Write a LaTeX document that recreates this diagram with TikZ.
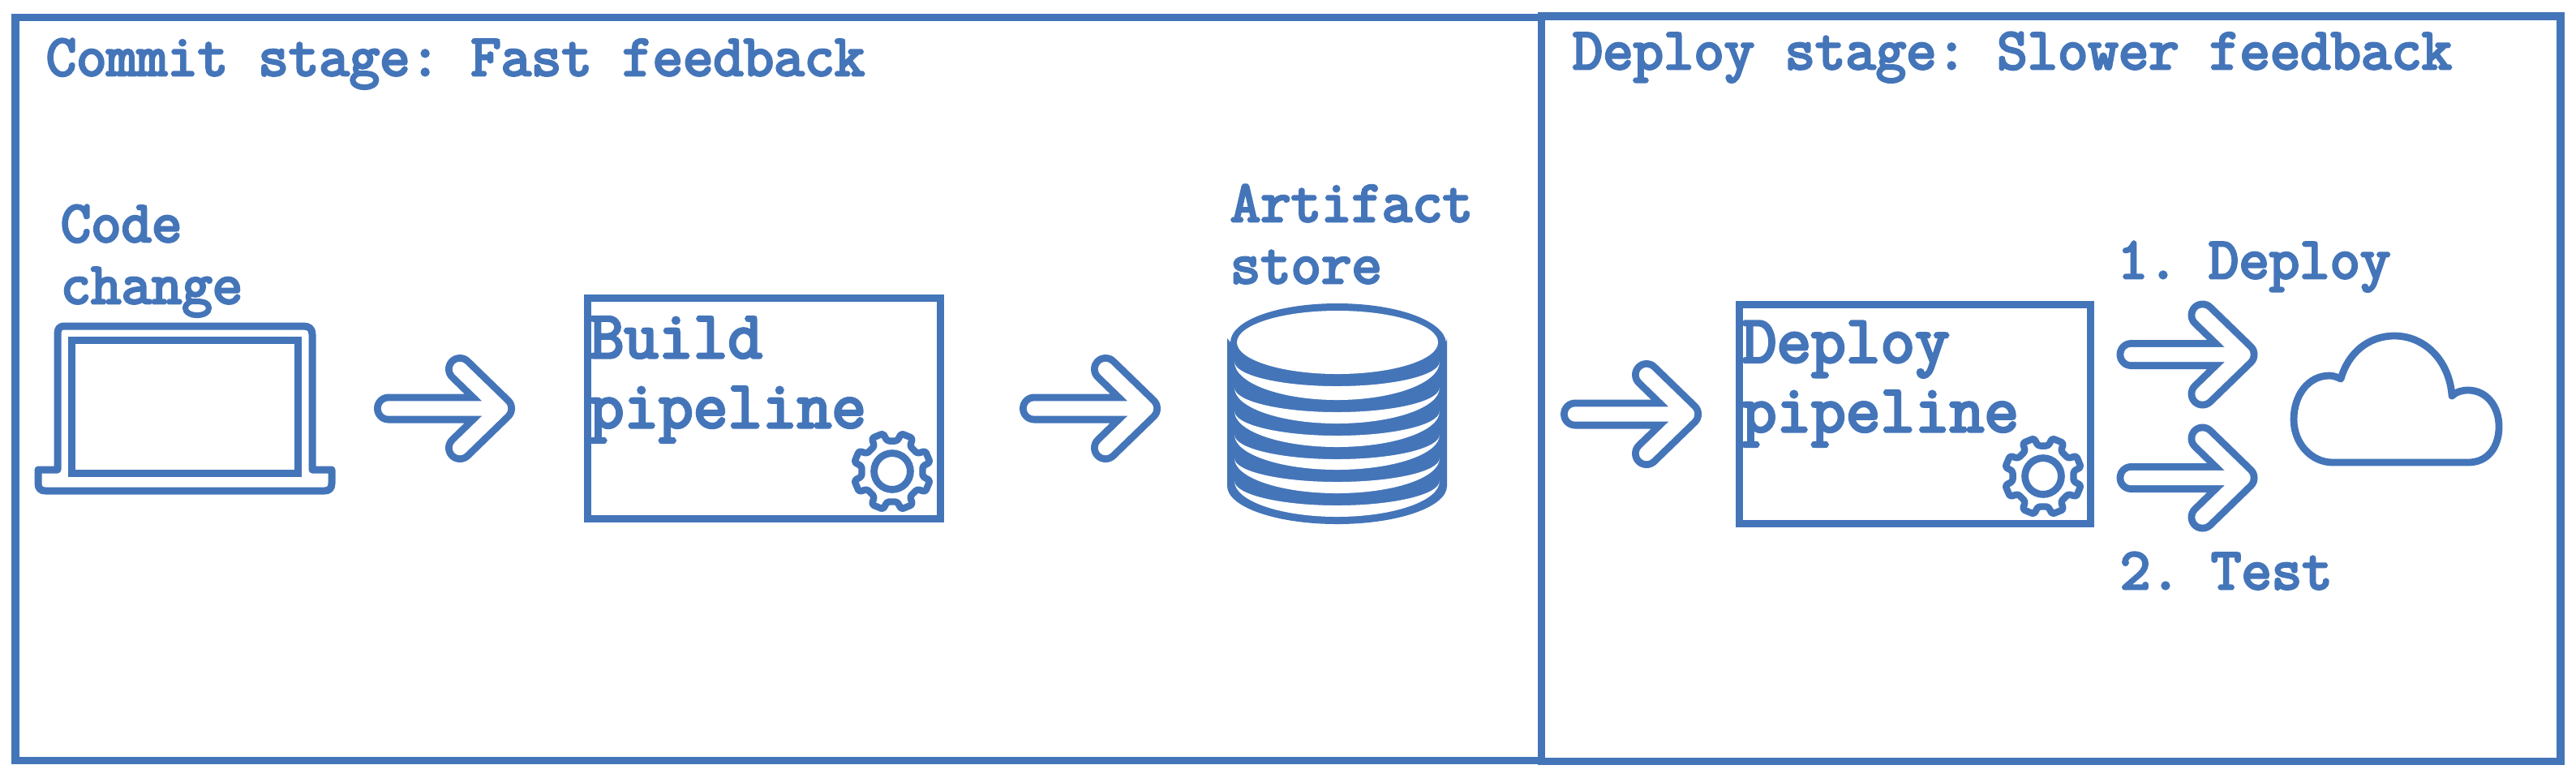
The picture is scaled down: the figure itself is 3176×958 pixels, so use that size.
\documentclass[tikz,border=0pt]{standalone}
\usepackage{fontspec}
\newfontfamily\labelfont{Latin Modern Mono}[FakeBold=4]
\frenchspacing
\definecolor{inkblue}{RGB}{68,117,185}
\tikzset{
  x=0.25pt,y=-0.25pt,
  frameline/.style={draw=inkblue,line width=2.35pt},
  boxline/.style={draw=inkblue,line width=2.25pt},
  small label/.style={inner sep=0pt,anchor=base west,text=inkblue,font=\labelfont\fontsize{18.15}{20}\selectfont},
  big label/.style={inner sep=0pt,anchor=base west,text=inkblue,font=\labelfont\fontsize{20.7}{22}\selectfont},
  pics/flowarrow/.style={code={
    \draw[inkblue,line width=9pt,line cap=round,line join=round] (18,0) -- (156,0) (106,-48.5) -- (156,0) -- (106,48.5);
    \draw[white,line width=4.6pt,line cap=round,line join=round] (18,0) -- (156,0) (106,-48.5) -- (156,0) -- (106,48.5);
  }},
  pics/gear/.style={code={
    \draw[inkblue,line width=2.1pt,line join=round,rounded corners=0.7pt]
      (9.5:38)
      \foreach \a in {22.5,67.5,...,337.5}{ -- (\a-13:38) -- (\a-9:48) -- (\a+9:48) -- (\a+13:38) } -- cycle;
    \draw[inkblue,line width=2.2pt] (0,0) ellipse[x radius=5.6pt,y radius=5.6pt];
  }},
}
\begin{document}
\begin{tikzpicture}
\useasboundingbox (0,0) rectangle (3176,958);
\fill[white] (0,0) rectangle (3176,958);
% frames
\draw[frameline] (19,21.5) rectangle (1900.5,937.5);
\draw[frameline] (1900.5,20) rectangle (3157,938.5);
% titles
\node[small label] (committitle) at (56,93) {Commit stage: Fast feedback};
\node[small label] (deploytitle) at (1938,85) {Deploy stage: Slower feedback};
% laptop
\node[small label] (code) at (74,298) {Code};
\node[small label] (change) at (74,374) {change};
\draw[inkblue,line width=2.25pt,line join=round]
  (71,579) -- (71,412) .. controls (71,405) and (73,402) .. (80,402) -- (374,402) .. controls (381,402) and (385,405) .. (385,412) -- (385,579)
  -- (409,579) -- (409,596) .. controls (409,602) and (406,605) .. (400,605) -- (56,605) .. controls (50,605) and (47,602) .. (47,596) -- (47,579) -- cycle;
\draw[boxline] (88,419.5) rectangle (367.5,583.5);
% arrows
\pic at (461,503.5) {flowarrow};
\pic at (1257,503.5) {flowarrow};
\pic at (1924,510.5) {flowarrow};
\pic at (2609.5,437) {flowarrow};
\pic at (2609.5,589) {flowarrow};
% build box
\draw[boxline] (724.5,367.5) rectangle (1159.5,639.5);
\node[big label] (build) at (726,441) {Build};
\node[big label] (buildp) at (726,527) {pipeline};
\pic at (1100,581) {gear};
% artifact store
\node[small label] (artifact) at (1516,273) {Artifact};
\node[small label] (store) at (1516,349) {store};
\fill[inkblue] (1513,417) -- (1517,422) .. controls (1517,395) and (1575,374) .. (1648.5,374) .. controls (1722,374) and (1780,395) .. (1783,422) -- (1784,417) -- (1784,599)
  .. controls (1784,625) and (1723,646) .. (1648.5,646) .. controls (1574,646) and (1513,625) .. (1513,599) -- cycle;
\fill[white] (1649,422) ellipse[x radius=31pt,y radius=9.75pt];
\foreach \e/\ra/\rb in {446/7.5/11.75,478/7.5/11,507/7.5/11,536/7.5/10.75,565/7.25/10.75,593/7.5/11}{
  \fill[white] (1522,\e) arc[start angle=180,end angle=360,x radius=31.6pt,y radius=\rb pt]
     arc[start angle=0,end angle=-180,x radius=31.6pt,y radius=\ra pt] -- cycle;
}
% deploy box
\draw[boxline] (2144.5,375) rectangle (2577.5,645.5);
\node[big label] (deploy) at (2147,446.5) {Deploy};
\node[big label] (deployp) at (2147,532) {pipeline};
\pic at (2519,587) {gear};
% labels
\node[small label] (one) at (2610,343) {1. Deploy};
\node[small label] (two) at (2613,726) {2. Test};
% cloud
\draw[inkblue,line width=2.2pt,line join=round]
  (2876,570) -- (3043,570) .. controls (3068,570) and (3081,550) .. (3081,526) .. controls (3081,500) and (3065,481) .. (3043,481) .. controls (3035,481) and (3028,483) .. (3023,488) .. controls (3020,445) and (2990,414) .. (2952,414) .. controls (2920,414) and (2895,435) .. (2886,467) .. controls (2882,465) and (2877,463) .. (2872,463) .. controls (2846,463) and (2828,487) .. (2828,517) .. controls (2828,547) and (2850,570) .. (2876,570) -- cycle;
\end{tikzpicture}
\end{document}
